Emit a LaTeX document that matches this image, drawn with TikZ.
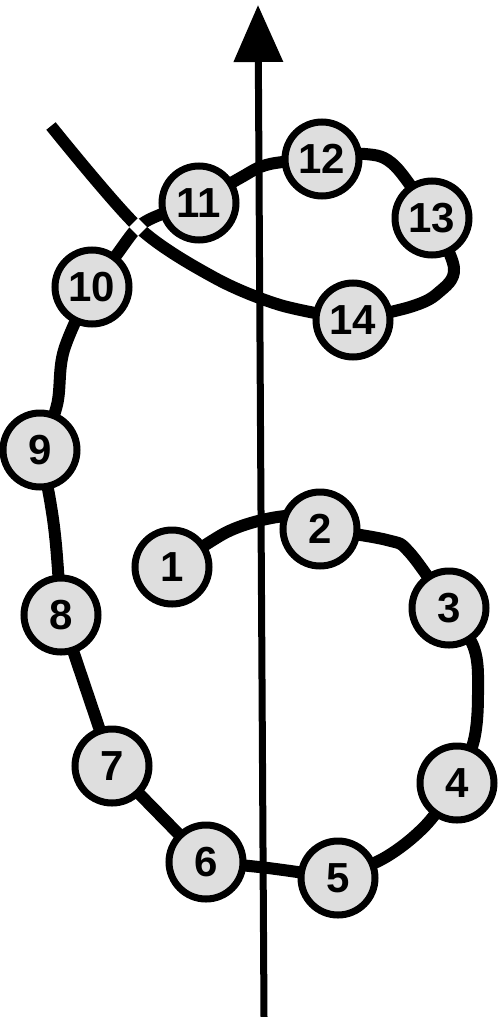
\documentclass[tikz,border=0pt]{standalone}
\usepackage{fontspec}
\newfontfamily\numfont{Liberation Sans}
\usetikzlibrary{arrows.meta}
\pgfdeclarelayer{background}
\pgfsetlayers{background,main}
\begin{document}
\begin{tikzpicture}[x=1pt,y=-1pt,
  ball/.style={circle,draw=black,line width=7pt,fill=black!13,minimum size=74pt,inner sep=0pt,
    font=\numfont\bfseries\fontsize{42}{42}\selectfont},
  chain/.style={line width=12pt,line join=round},
  gap/.style={rectangle,fill=white,minimum size=12.5pt,inner sep=0pt,rotate=45},
  axisline/.style={line width=7pt,-{Triangle[length=57pt,width=48pt]}}]
\useasboundingbox (0,0) rectangle (500,1017);

\node[ball] (n1) at (172,567) {1};
\node[ball] (n2) at (320,529) {2};
\node[ball] (n3) at (449,608) {3};
\node[ball] (n4) at (457,783) {4};
\node[ball] (n5) at (338,878) {5};
\node[ball] (n6) at (206,862) {6};
\node[ball] (n7) at (112,766) {7};
\node[ball] (n8) at (61,615) {8};
\node[ball] (n9) at (40,450) {9};
\node[ball] (n10) at (92,287) {10};
\node[ball] (n11) at (199,203) {11};
\node[ball] (n12) at (322,159) {12};
\node[ball] (n13) at (432,218) {13};
\node[ball] (n14) at (353,320) {14};

\coordinate (X) at (138,227);
\coordinate (E) at (51,126);
\coordinate (axB) at (264,1017);
\coordinate (axT) at (258,5);

\begin{pgfonlayer}{background}
\draw[chain] plot[smooth,tension=0.5] coordinates {(n1.center) (225,533) (262,520) (296,516) (n2.center)};
\draw[chain] plot[smooth,tension=0.6] coordinates {(n2.center) (387,540) (410,553) (n3.center)};
\draw[chain] plot[smooth,tension=0.6] coordinates {(n3.center) (474,648) (478,692) (474,740) (n4.center)};
\draw[chain] plot[smooth,tension=0.6] coordinates {(n4.center) (426,825) (386,857) (n5.center)};
\draw[chain] plot[smooth,tension=0.6] coordinates {(n5.center) (268,868) (n6.center)};
\draw[chain] (n6.center) -- (n7.center);
\draw[chain] (n7.center) -- (n8.center);
\draw[chain] plot[smooth,tension=0.6] coordinates {(n8.center) (56,545) (50,500) (n9.center)};
\draw[chain] plot[smooth,tension=0.6] coordinates {(n9.center) (57,405) (64,350) (n10.center)};
\draw[chain] plot[smooth,tension=0.5] coordinates {(n10.center) (115,257) (X) (162,214) (n11.center)};
\draw[chain] plot[smooth,tension=0.6] coordinates {(n11.center) (240,178) (270,164) (n12.center)};
\draw[chain] plot[smooth,tension=0.6] coordinates {(n12.center) (365,154) (395,166) (n13.center)};
\draw[chain] plot[smooth,tension=0.6] coordinates {(n13.center) (454,268) (438,293) (410,307) (n14.center)};
\draw[chain] plot[smooth,tension=0.5] coordinates {(n14.center) (280,305) (215,278) (X) (E)};
\node[gap] (cross) at (X) {};
\draw[axisline] (axB) -- (axT);
\end{pgfonlayer}
\end{tikzpicture}
\end{document}
